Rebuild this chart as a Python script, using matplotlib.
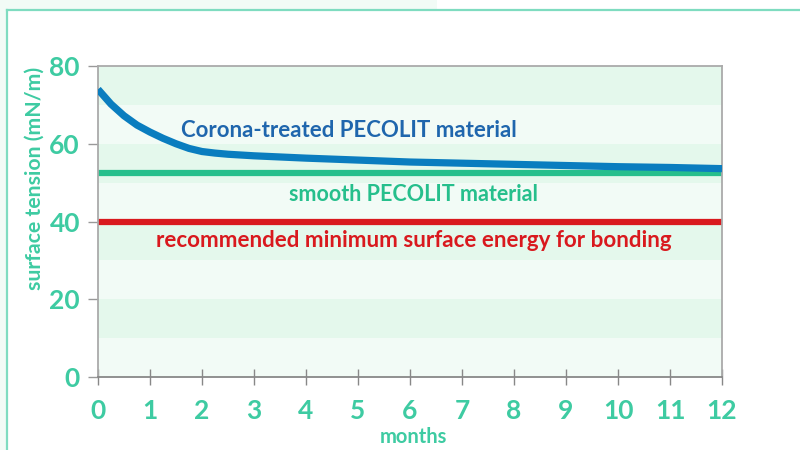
import matplotlib
matplotlib.use("Agg")
import matplotlib.pyplot as plt
from matplotlib.lines import Line2D
from matplotlib.patches import Rectangle

# ---- data ----
months = [0, 0.25, 0.5, 0.75, 1, 1.25, 1.5, 1.75, 2, 2.25, 2.5, 3, 4, 5, 6, 7, 8, 9, 10, 11, 12]
corona = [74.0, 70.2, 67.2, 64.8, 63.0, 61.4, 60.0, 58.8, 58.0, 57.6, 57.3, 56.9, 56.3, 55.8,
          55.3, 55.0, 54.7, 54.4, 54.1, 53.9, 53.6]
smooth_level = 52.5
recommended_level = 40
x_ticks = list(range(0, 13))
y_ticks = [0, 20, 40, 60, 80]

TEAL = "#3ecba2"
BLUE = "#0a7dbf"
BLUE_TXT = "#1f66ad"
GREEN = "#26bf8c"
RED = "#d9191e"
BAND_DARK = "#e4f8ec"
BAND_LIGHT = "#f2fbf6"
FONT = "Lato"

fig = plt.figure(figsize=(8, 4.5), dpi=100, facecolor="white")

# outer pale background and frame
fig.patches.append(Rectangle((0, 0), 7 / 800, 1, transform=fig.transFigure,
                             facecolor=BAND_LIGHT, edgecolor="none", zorder=0))
fig.patches.append(Rectangle((0, 1 - 10 / 450), 437 / 800, 10 / 450, transform=fig.transFigure,
                             facecolor=BAND_LIGHT, edgecolor="none", zorder=0))
fig.lines.append(Line2D([7 / 800, 1], [1 - 10 / 450, 1 - 10 / 450], transform=fig.transFigure,
                        color="#7fdcc0", lw=1.6))
fig.lines.append(Line2D([7 / 800, 7 / 800], [0, 1 - 10 / 450], transform=fig.transFigure,
                        color="#7fdcc0", lw=1.6))

ax = fig.add_axes([98 / 800, 1 - 377 / 450, 624 / 800, 311 / 450])
ax.set_facecolor(BAND_LIGHT)
for lo in range(0, 80, 10):
    ax.axhspan(lo, lo + 10, color=BAND_DARK if (lo // 10) % 2 == 1 else BAND_LIGHT,
               lw=0, zorder=0)

ax.plot(months, corona, color=BLUE, lw=5.2, solid_capstyle="butt",
        solid_joinstyle="round", zorder=3)
ax.axhline(smooth_level, color=GREEN, lw=4.5, zorder=2)
ax.axhline(recommended_level, color=RED, lw=4.5, zorder=2)

ax.set_xlim(0, 12)
ax.set_ylim(0, 80)
ax.set_xticks(x_ticks)
ax.set_yticks(y_ticks)
ax.set_xticklabels([str(t) for t in x_ticks], fontfamily=FONT, fontweight="bold",
                   fontsize=19, color=TEAL)
ax.set_yticklabels([str(t) for t in y_ticks], fontfamily=FONT, fontweight="bold",
                   fontsize=19, color=TEAL)
ax.tick_params(axis="x", direction="inout", length=11, width=1, color="#888888", pad=10)
ax.tick_params(axis="y", direction="out", length=7, width=1, color="#999999", pad=6)

for s in ["left", "top", "right"]:
    ax.spines[s].set_color("#aaaaaa")
    ax.spines[s].set_linewidth(1.3)
ax.spines["bottom"].set_color("#888888")
ax.spines["bottom"].set_linewidth(1.3)

ax.text(4.83, 63.5, "Corona-treated PECOLIT material", color=BLUE_TXT,
        fontfamily=FONT, fontweight="bold", fontsize=16.0, ha="center", va="center")
ax.text(6.06, 47.0, "smooth PECOLIT material", color=GREEN,
        fontfamily=FONT, fontweight="bold", fontsize=15.5, ha="center", va="center")
ax.text(6.07, 35.2, "recommended minimum surface energy for bonding", color=RED,
        fontfamily=FONT, fontweight="bold", fontsize=16.1, ha="center", va="center")

fig.text(413 / 800, 1 - 437 / 450, "months", color=TEAL, fontfamily=FONT,
         fontweight="bold", fontsize=14.5, ha="center", va="center")
fig.text(35 / 800, 1 - 178 / 450, "surface tension (mN/m)", color=TEAL, fontfamily=FONT,
         fontweight="bold", fontsize=15.3, ha="center", va="center", rotation=90)

fig.savefig("out.png", dpi=100, facecolor=fig.get_facecolor())
